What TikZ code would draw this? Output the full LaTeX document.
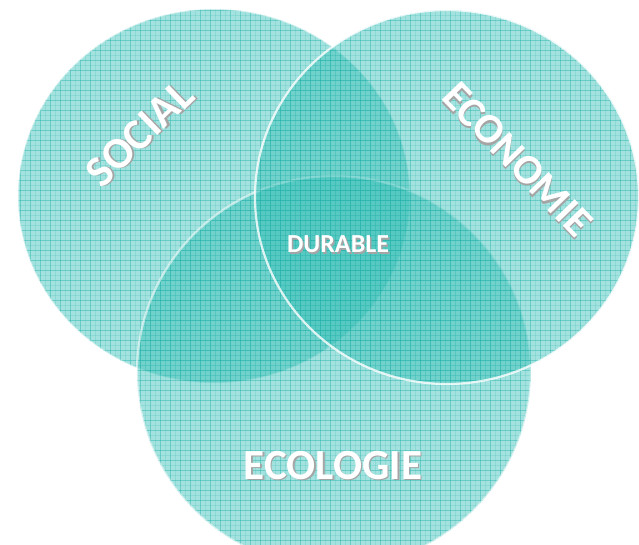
\documentclass[tikz,border=0pt]{standalone}
\usepackage{fontspec}
\setmainfont{Carlito}
\definecolor{shad}{RGB}{165,165,165}
\newcommand\shadowed[1]{\makebox[0pt][l]{\hspace{1.6pt}\raisebox{-1.6pt}{\color{shad}#1}}#1}
\begin{document}
\begin{tikzpicture}[x=1pt,y=-1pt]
\definecolor{tealA}{RGB}{52,190,182}
\definecolor{gridc}{RGB}{38,178,170}
\tikzset{
  disc/.style={fill=tealA, fill opacity=0.45},
  gridl/.style={draw=gridc, line width=0.7pt, draw opacity=0.45},
  finegrid/.style={draw=gridc, line width=0.3pt, draw opacity=0.18},
  rim/.style={draw=white, line width=2.2pt},
  lab/.style={text=white, inner sep=0pt},
}
\newcommand\papergrid{%
  \foreach \i in {5,15,...,640} {\draw[finegrid] (\i,0) -- (\i,600); \draw[finegrid] (0,\i) -- (640,\i);}
  \foreach \i in {0,10,...,640} {\draw[gridl] (\i,0) -- (\i,600); \draw[gridl] (0,\i) -- (640,\i);}
}
\useasboundingbox (0,0) rectangle (639,544);
% SOCIAL circle
\path[disc] (214,196) ellipse [x radius=196, y radius=187];
\begin{scope}
  \clip (214,196) ellipse [x radius=196, y radius=187];
  \papergrid
\end{scope}
\draw[white, line width=1.5pt, draw opacity=0.5] (214,196) ellipse [x radius=196, y radius=187];
% ECOLOGIE circle
\path[disc] (334,372) ellipse [x radius=197, y radius=196];
\begin{scope}
  \clip (334,372) ellipse [x radius=197, y radius=196];
  \papergrid
\end{scope}
\draw[rim, draw opacity=0.55] (334,372) ellipse [x radius=197, y radius=196];
% ECONOMIE circle
\path[disc] (447,197) ellipse [x radius=192, y radius=187];
\begin{scope}
  \clip (447,197) ellipse [x radius=192, y radius=187];
  \papergrid
\end{scope}
\draw[rim, draw opacity=0.8] (447,197) ellipse [x radius=192, y radius=187];
% labels
\node[lab, rotate=44, font=\fontsize{44}{44}\selectfont\bfseries] (social) at (140,134) {\shadowed{SOCIAL}};
\node[lab, rotate=-46, font=\fontsize{42}{42}\selectfont\bfseries] (economie) at (517,160) {\shadowed{ECONOMIE}};
\node[lab, font=\fontsize{43}{43}\selectfont\bfseries] (ecologie) at (333,466) {\shadowed{ECOLOGIE}};
\node[lab, font=\fontsize{26}{26}\selectfont\bfseries] (durable) at (338,245) {\shadowed{DURABLE}};
\end{tikzpicture}
\end{document}
